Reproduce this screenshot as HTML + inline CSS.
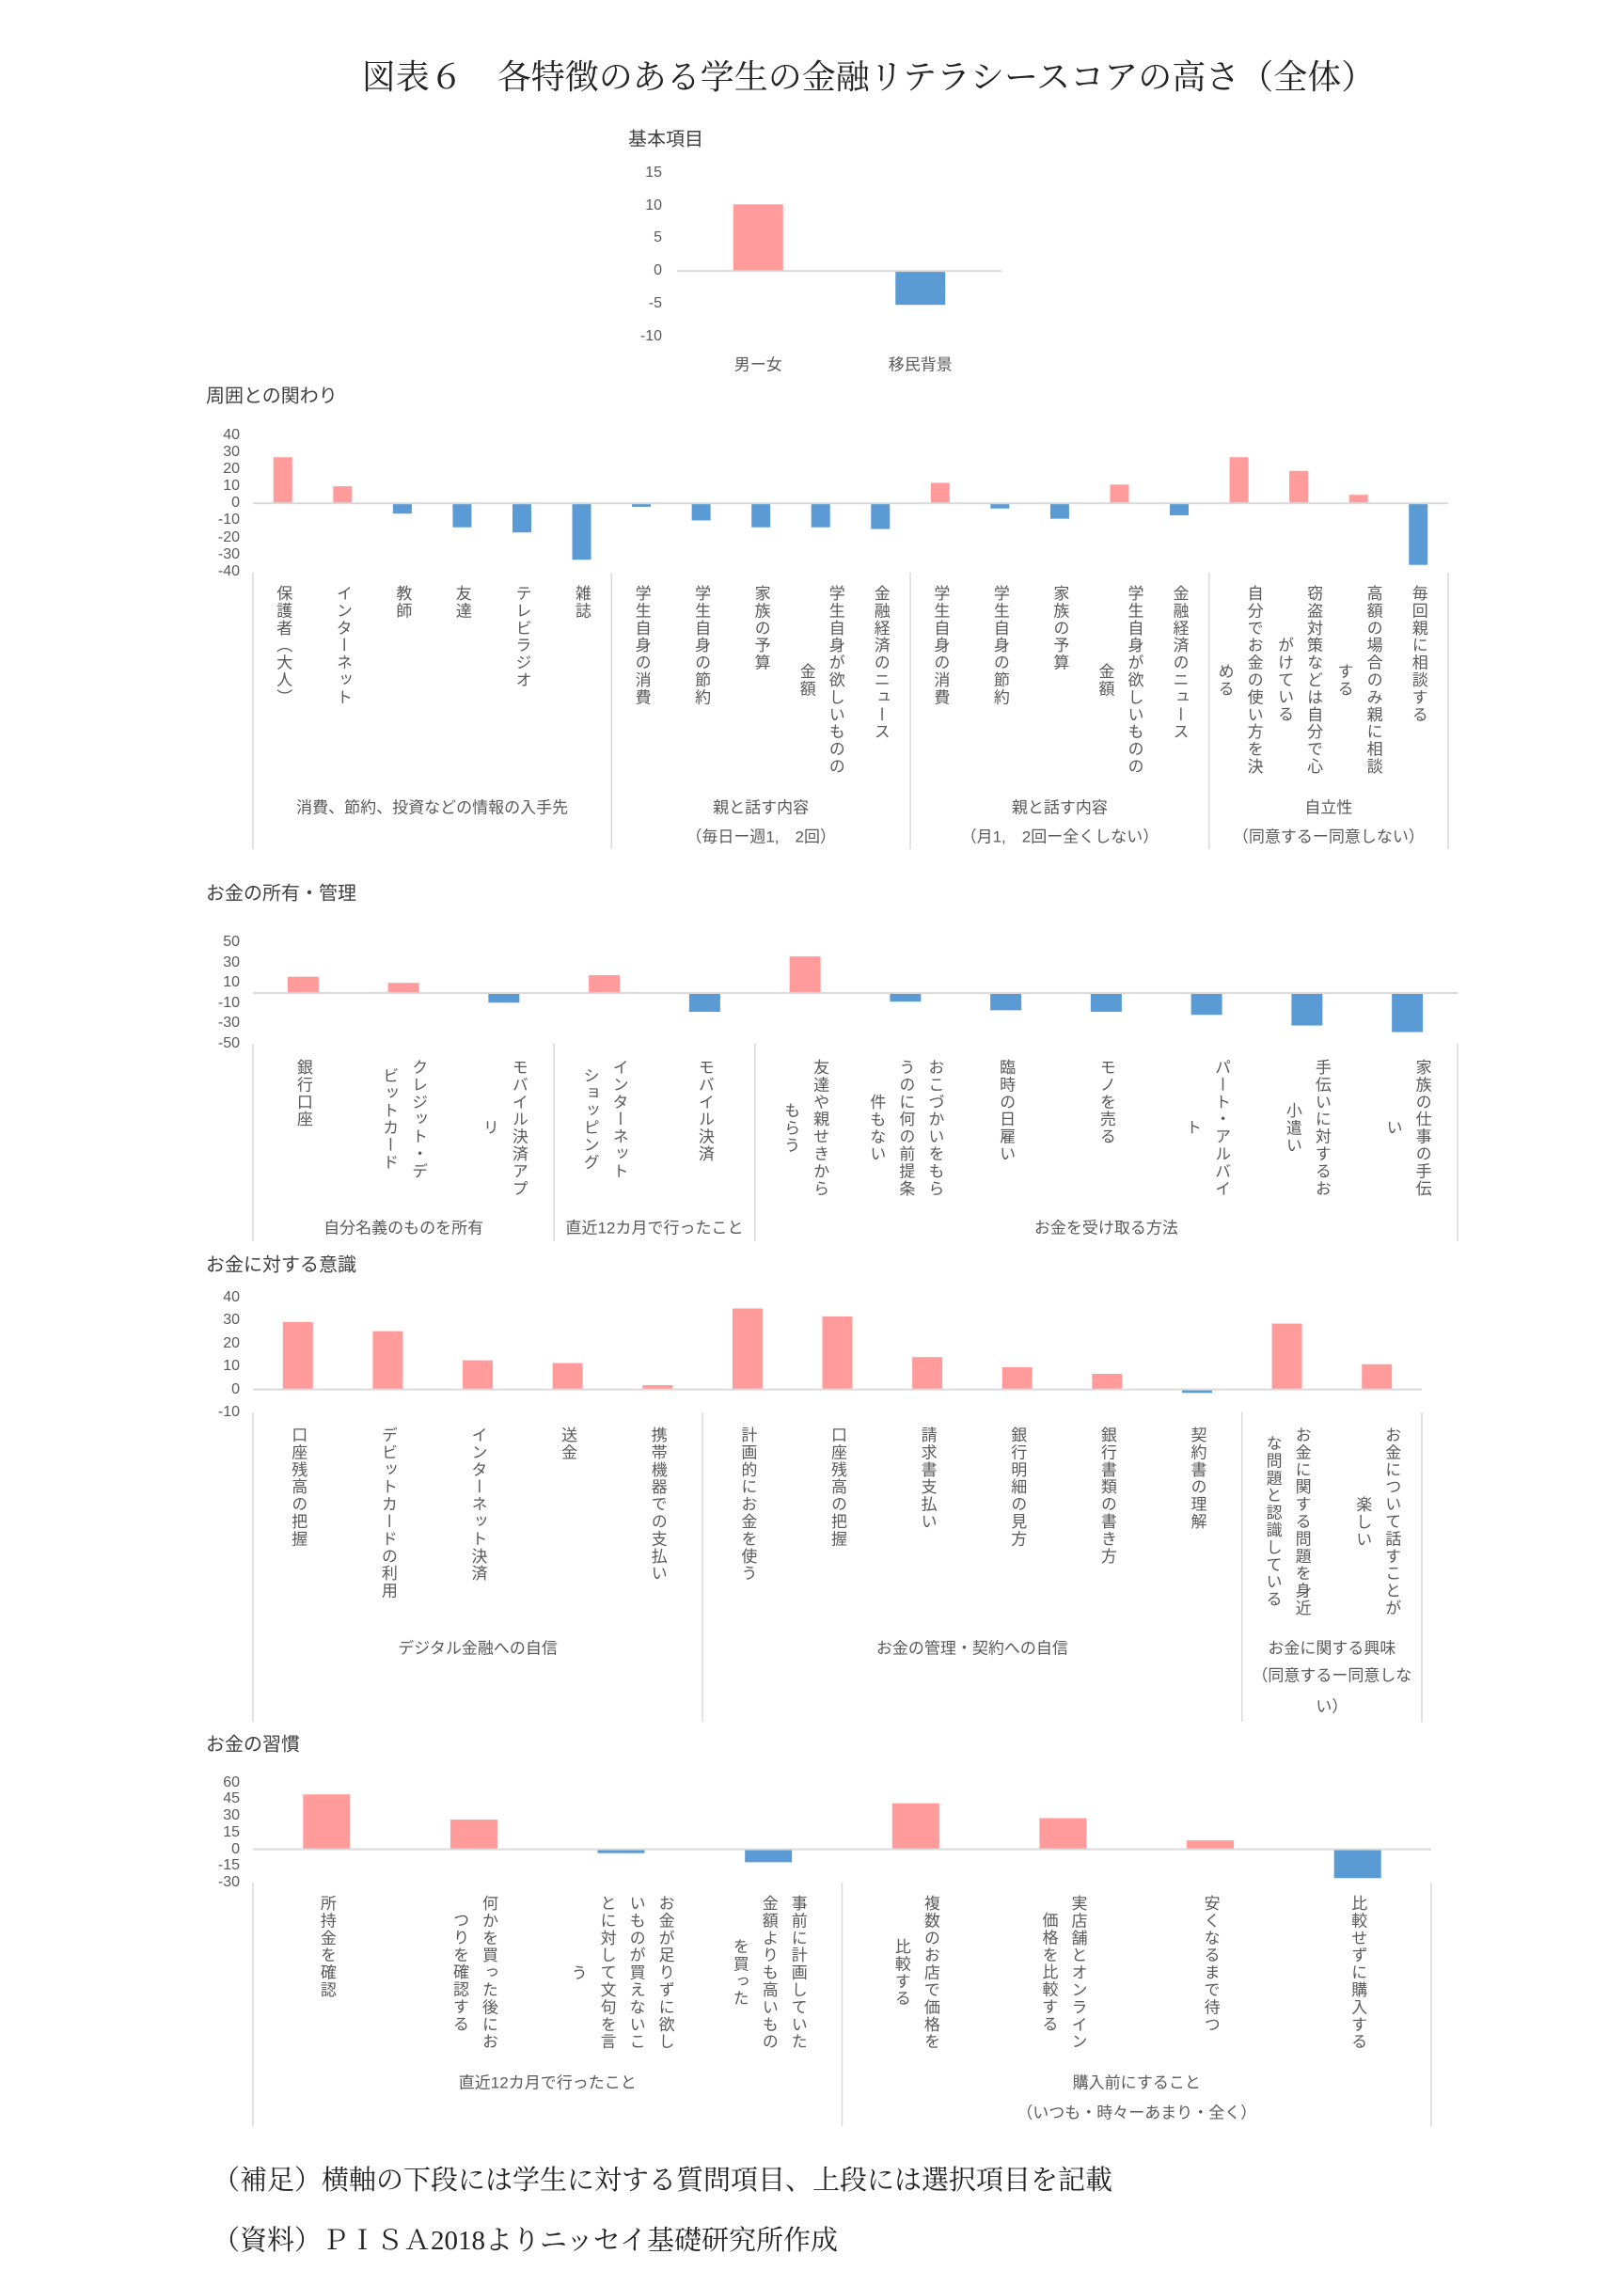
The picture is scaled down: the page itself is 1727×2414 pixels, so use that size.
<!DOCTYPE html>
<html><head><meta charset="utf-8">
<style>
html,body{margin:0;padding:0;background:#fff;}
#root{position:relative;width:1727px;height:2414px;overflow:hidden;font-family:"Liberation Sans","Noto Sans CJK JP",sans-serif;color:#595959;}
.abs{position:absolute;}
.vlab{position:absolute;writing-mode:vertical-rl;white-space:pre;text-align:center;font-size:17px;line-height:31px;letter-spacing:1.4px;transform:translateX(-50%);color:#595959;}
.tick{position:absolute;font-size:16px;text-align:right;width:40px;transform:translateY(-50%);}
.glab{position:absolute;font-size:17px;text-align:center;transform:translate(-50%,-50%);white-space:nowrap;}
.stitle{position:absolute;font-size:20px;color:#404040;transform:translateY(-50%);}
.serif{font-family:"Liberation Serif","Noto Serif CJK SC",serif;color:#222;}
</style></head>
<body>
<div id="root">
<div class="abs serif" style="left:60px;width:1727px;top:54px;text-align:center;font-size:36px;">図表６　各特徴のある学生の金融リテラシースコアの高さ（全体）</div>
<svg id="svg" class="abs" style="left:0;top:0" width="1727" height="2414"></svg>
<div class="abs serif" style="left:226px;top:2296px;font-size:29px;">（補足）横軸の下段には学生に対する質問項目、上段には選択項目を記載</div>
<div class="abs serif" style="left:226px;top:2360px;font-size:29px;">（資料）ＰＩＳＡ2018よりニッセイ基礎研究所作成</div>
</div>
<script>
// ---- Chart 1: 基本項目
const c1Cats = ["男ー女","移民背景"];
const c1Vals = [10.2, -5.2];
const c1Ticks = [15,10,5,0,-5,-10];
// ---- Chart 2: 周囲との関わり
const c2Cats = ["保護者（大人）","インターネット","教師","友達","テレビラジオ","雑誌","学生自身の消費","学生自身の節約","家族の予算","学生自身が欲しいものの\n金額","金融経済のニュース","学生自身の消費","学生自身の節約","家族の予算","学生自身が欲しいものの\n金額","金融経済のニュース","自分でお金の使い方を決\nめる","窃盗対策などは自分で心\nがけている","高額の場合のみ親に相談\nする","毎回親に相談する"];
const c2Vals = [27,10,-6,-14,-17,-33,-2,-10,-14,-14,-15,12,-3,-9,11,-7,27,19,5,-36];
const c2Ticks = [40,30,20,10,0,-10,-20,-30,-40];
const c2Groups = [6,5,5,4];
const c2GroupLabels = [["消費、節約、投資などの情報の入手先"],["親と話す内容","（毎日ー週1,　2回）"],["親と話す内容","（月1,　2回ー全くしない）"],["自立性","（同意するー同意しない）"]];
// ---- Chart 3: お金の所有・管理
const c3Cats = ["銀行口座","クレジット・デ\nビットカード","モバイル決済アプ\nリ","インターネット\nショッピング","モバイル決済","友達や親せきから\nもらう","おこづかいをもら\nうのに何の前提条\n件もない","臨時の日雇い","モノを売る","パート・アルバイ\nト","手伝いに対するお\n小遣い","家族の仕事の手伝\nい"];
const c3Vals = [16,10,-9.5,17.5,-18.5,36,-8.5,-17,-18.5,-21.5,-32,-38.5];
const c3Ticks = [50,30,10,-10,-30,-50];
const c3Groups = [3,2,7];
const c3GroupLabels = [["自分名義のものを所有"],["直近12カ月で行ったこと"],["お金を受け取る方法"]];
// ---- Chart 4: お金に対する意識
const c4Cats = ["口座残高の把握","デビットカードの利用","インターネット決済","送金","携帯機器での支払い","計画的にお金を使う","口座残高の把握","請求書支払い","銀行明細の見方","銀行書類の書き方","契約書の理解","お金に関する問題を身近\nな問題と認識している","お金について話すことが\n楽しい"];
const c4Vals = [29.4,25.4,12.7,11.5,1.9,35.3,31.8,14.1,9.7,6.8,-1.5,28.7,11];
const c4Ticks = [40,30,20,10,0,-10];
const c4Groups = [5,6,2];
const c4GroupLabels = [["デジタル金融への自信"],["お金の管理・契約への自信"],["お金に関する興味","（同意するー同意しな","い）"]];
// ---- Chart 5: お金の習慣
const c5Cats = ["所持金を確認","何かを買った後にお\nつりを確認する","お金が足りずに欲し\nいものが買えないこ\nとに対して文句を言\nう","事前に計画していた\n金額よりも高いもの\nを買った","複数のお店で価格を\n比較する","実店舗とオンライン\n価格を比較する","安くなるまで待つ","比較せずに購入する"];
const c5Vals = [49.4,26.7,-3.5,-11.7,41.4,28,8,-26];
const c5Ticks = [60,45,30,15,0,-15,-30];
const c5Groups = [4,4];
const c5GroupLabels = [["直近12カ月で行ったこと"],["購入前にすること","（いつも・時々ーあまり・全く）"]];

const NS = "http://www.w3.org/2000/svg";
const svg = document.getElementById('svg');
const root = document.getElementById('root');

function drawChart(o){
  const n = o.cats.length;
  const bw = (o.x1 - o.x0) / n;
  const xc = i => o.x0 + bw * (i + 0.5);
  const y = v => o.yMax + (v - o.vmax) * (o.yMin - o.yMax) / (o.vmin - o.vmax);
  const t = document.createElement('div');
  t.className = 'stitle';
  
  
  t.style.left = o.titleX + 'px'; t.style.top = o.titleY + 'px';
  t.textContent = o.title; root.appendChild(t);
  o.ticks.forEach(tv => {
    const d = document.createElement('div');
    d.className = 'tick';
    
    
    d.style.left = (o.tickRight - 40) + 'px'; d.style.top = y(tv) + 'px';
    d.textContent = tv; root.appendChild(d);
  });
  o.vals.forEach((v, i) => {
    const r = document.createElementNS(NS, 'rect');
    
    
    const y0 = y(0), yv = y(v);
    r.setAttribute('x', xc(i) - o.barW / 2);
    r.setAttribute('y', Math.min(y0, yv));
    r.setAttribute('width', o.barW);
    r.setAttribute('height', Math.abs(yv - y0));
    r.setAttribute('fill', v >= 0 ? '#FF9B9B' : '#5B9BD5');
    svg.appendChild(r);
  });
  const ax = document.createElementNS(NS, 'line');
  
  
  ax.setAttribute('x1', o.x0); ax.setAttribute('x2', o.x1);
  ax.setAttribute('y1', y(0)); ax.setAttribute('y2', y(0));
  ax.setAttribute('stroke', '#d9d9d9'); ax.setAttribute('stroke-width', '2');
  svg.appendChild(ax);
  o.cats.forEach((c, i) => {
    const d = document.createElement('div');
    
    
    d.className = o.horizontal ? 'glab' : 'vlab';
    d.style.left = xc(i) + 'px'; d.style.top = o.labelTop + 'px';
    d.textContent = c; root.appendChild(d);
  });
  if (!o.groups) return;
  let idx = 0;
  const bounds = [0];
  o.groups.forEach(g => { idx += g; bounds.push(idx); });
  bounds.forEach(b => {
    const l = document.createElementNS(NS, 'line');
    
    
    const xx = o.x0 + b * bw;
    l.setAttribute('x1', xx); l.setAttribute('x2', xx);
    l.setAttribute('y1', o.sepTop); l.setAttribute('y2', o.sepBot);
    l.setAttribute('stroke', '#d9d9d9'); l.setAttribute('stroke-width', '1.5');
    svg.appendChild(l);
  });
  o.groupLabels.forEach((lines, gi) => {
    const cx = o.x0 + (bounds[gi] + bounds[gi + 1]) / 2 * bw;
    lines.forEach((ln, li) => {
      const d = document.createElement('div');
      d.className = 'glab';
      
      
      d.style.left = cx + 'px'; d.style.top = o.glY[li] + 'px';
      d.textContent = ln; root.appendChild(d);
    });
  });
}

drawChart({name:'basic', title:'基本項目', titleX:668, titleY:146, cats:c1Cats, vals:c1Vals, ticks:c1Ticks,
  x0:720, x1:1065, vmax:15, vmin:-10, yMax:184, yMin:357.5, barW:53, tickRight:704, labelTop:386, horizontal:true});
drawChart({name:'surroundings', title:'周囲との関わり', titleX:219, titleY:419, cats:c2Cats, vals:c2Vals, ticks:c2Ticks,
  x0:269, x1:1540, vmax:40, vmin:-40, yMax:462.6, yMin:608, barW:20, tickRight:255, labelTop:622,
  groups:c2Groups, groupLabels:c2GroupLabels, glY:[857,888], sepTop:609, sepBot:903});
drawChart({name:'ownership', title:'お金の所有・管理', titleX:219, titleY:948, cats:c3Cats, vals:c3Vals, ticks:c3Ticks,
  x0:269, x1:1550, vmax:50, vmin:-50, yMax:1002, yMin:1110, barW:33, tickRight:255, labelTop:1126,
  groups:c3Groups, groupLabels:c3GroupLabels, glY:[1304], sepTop:1110, sepBot:1320});
drawChart({name:'awareness', title:'お金に対する意識', titleX:219, titleY:1343, cats:c4Cats, vals:c4Vals, ticks:c4Ticks,
  x0:269, x1:1512, vmax:40, vmin:-10, yMax:1380, yMin:1502, barW:32, tickRight:255, labelTop:1517,
  groups:c4Groups, groupLabels:c4GroupLabels, glY:[1751,1780,1813], sepTop:1502, sepBot:1831});
drawChart({name:'habits', title:'お金の習慣', titleX:219, titleY:1853, cats:c5Cats, vals:c5Vals, ticks:c5Ticks,
  x0:269, x1:1522, vmax:60, vmin:-30, yMax:1895.7, yMin:2002, barW:50, tickRight:255, labelTop:2015,
  groups:c5Groups, groupLabels:c5GroupLabels, glY:[2213,2245], sepTop:2002, sepBot:2261});
</script>
</body></html>
